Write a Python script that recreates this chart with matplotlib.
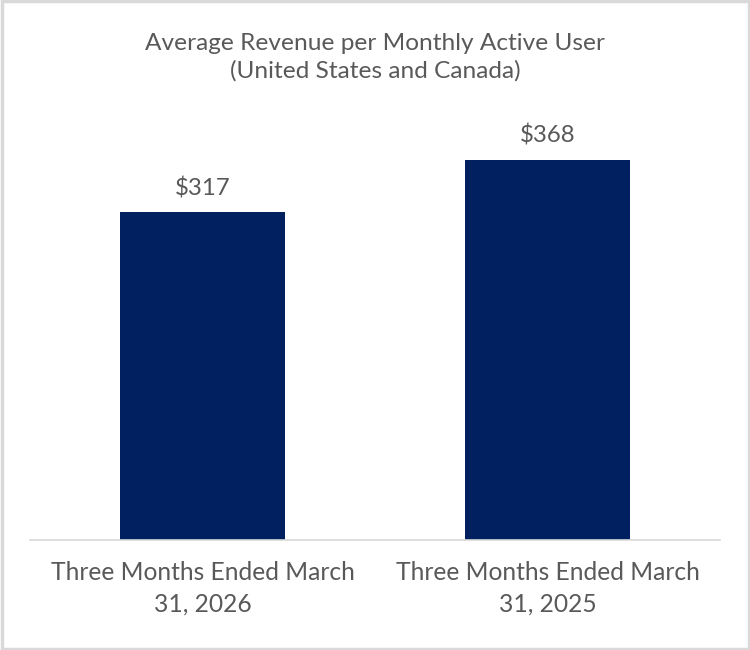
import matplotlib.pyplot as plt
from matplotlib.patches import Rectangle

plt.rcParams['font.family'] = ['Lato', 'DejaVu Sans']

periods = ['Three Months Ended March\n31, 2026', 'Three Months Ended March\n31, 2025']
arpu = [317, 368]
value_labels = ['$317', '$368']

TEXT = '#595959'
NAVY = '#002060'

fig = plt.figure(figsize=(7.5, 6.5), dpi=100)
# outer chart border
fig.patches.append(Rectangle((0.002, 0.002), 0.996, 0.996, transform=fig.transFigure,
                             fill=False, edgecolor='#d9d9d9', linewidth=2.5))

ax = fig.add_axes([0.04, 0.1692, 0.92, 0.6363])
x = range(len(periods))
bars = ax.bar(x, arpu, width=0.48, color=NAVY)

ax.set_xlim(-0.5, 1.5)
ax.set_ylim(0, 400)
ax.set_yticks([])
ax.set_xticks(list(x))
ax.set_xticklabels(periods, fontsize=17.7, color=TEXT, linespacing=1.45)
ax.tick_params(axis='x', length=0, pad=15)

for s in ['top', 'left', 'right']:
    ax.spines[s].set_visible(False)
ax.spines['bottom'].set_color('#d9d9d9')
ax.spines['bottom'].set_linewidth(1.2)

for b, lab in zip(bars, value_labels):
    ax.annotate(lab, (b.get_x() + b.get_width() / 2, b.get_height()),
                xytext=(0, 9.5), textcoords='offset points',
                ha='center', va='bottom', fontsize=17.3, color=TEXT)

fig.text(0.5, 0.9115, 'Average Revenue per Monthly Active User\n(United States and Canada)',
         ha='center', va='center', fontsize=17.6, color=TEXT, linespacing=1.32)

fig.savefig('out.png', dpi=100)
